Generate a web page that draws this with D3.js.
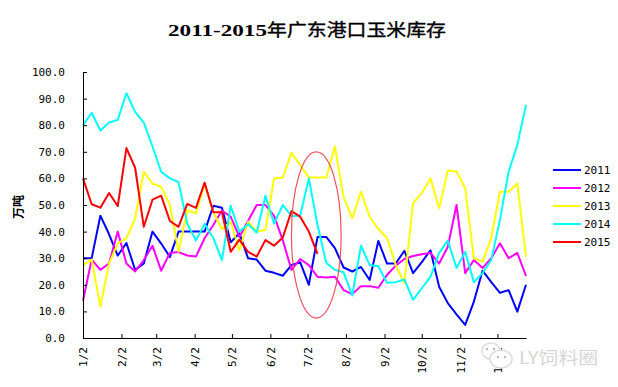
<!DOCTYPE html>
<meta charset="utf-8">
<style>
  body { margin: 0; background: #fff; }
  text { fill: #000; }
  .axis text { font: 11px "DejaVu Sans Mono", "Liberation Mono", monospace; fill: #000; }
  .axis path, .axis line { stroke: #000; stroke-width: 1; }
</style>

<body>
  <script src="https://d3js.org/d3.v7.min.js"></script>
  <script>
    var titleYears = "2011-2015";
    var titleText = "年广东港口玉米库存";
    var yLabel = "万吨";
    var years = ["2011", "2012", "2013", "2014", "2015"];
    var colors = ["#0000ff", "#ff00ff", "#ffff00", "#00ffff", "#ff0000"];
    var yTicks = [0, 10, 20, 30, 40, 50, 60, 70, 80, 90, 100];
    var monthTicks = ["01-02", "02-02", "03-02", "04-02", "05-02", "06-02", "07-02", "08-02", "09-02", "10-02", "11-02", "12-02"];

    var v2011 = [30, 30, 46, 39, 31, 35.7, 25.6, 28, 40, 35.5, 30.5, 40, 40, 40, 40, 49.7, 49, 36, 39.4, 30, 29.5, 25.3, 24.5, 23.4, 27.4, 28.5, 20, 38, 38, 33.8, 26.5, 25, 26.7, 21.8, 36.5, 28, 28, 32.8, 24.4, 28.5, 33, 19.3, 13.1, 8.9, 4.9, 13.7, 25.3, 21, 17, 18, 9.9, 20];
    var v2012 = [14, 29.5, 25.6, 28, 40, 28, 25, 29.3, 34.7, 25.3, 32, 32.3, 31, 30.6, 37.5, 42.5, 47.9, 45.6, 38, 44, 50, 50, 45.9, 36.8, 25.6, 29.7, 27.4, 23, 22.7, 23, 18, 16.5, 19.5, 19.5, 18.9, 23.7, 27.2, 29.7, 30.8, 31.5, 32, 28, 34.3, 50, 24.4, 29.3, 26.3, 30, 35.6, 30, 32, 23.3];
    var v2013 = [27.4, 29.5, 11.8, 28, 35.6, 37.5, 45, 62.5, 58, 56.9, 50, 32.4, 48, 46.9, 58, 47.3, 41, 43.7, 33, 43.7, 40, 40.6, 60, 60.3, 69.7, 65, 60.3, 60.3, 60.3, 72, 53, 45, 55, 45.6, 41, 37.6, 27.5, 20.6, 50.7, 54.5, 60, 48.8, 63, 62.6, 56.3, 30, 28.7, 37.6, 55, 55, 58, 30.6];
    var v2014 = [80, 84.7, 78, 81, 82, 92, 85, 81, 72, 62.5, 60, 58.6, 43, 36.6, 42.9, 37.6, 29.3, 49.7, 40, 42.8, 39.6, 53.5, 43, 50, 45.9, 46, 60, 42.5, 28.3, 25.6, 24.7, 16, 34.7, 27.4, 27, 20.8, 21, 22, 14.3, 18.7, 23, 32, 36.6, 26.3, 32.4, 21, 24.4, 29.3, 44.4, 62.5, 72.6, 87.6];
    var v2015 = [60, 50.3, 49, 54.5, 49.6, 71.4, 64, 41.8, 52, 53.5, 44, 41.8, 50.4, 48.9, 58.4, 47.3, 47.3, 32.4, 37, 32.4, 30.6, 36.8, 34.7, 37.8, 47.7, 45.6, 40, 31.6];
    var seriesValues = [v2011, v2012, v2013, v2014, v2015];

    // the hand drawn ring around July, in chart units
    var ringDates = ["06-19", "07-09", "07-29"];
    var ringValues = [7.5, 70];

    var parseDay = d3.utcParse("%Y-%m-%d");
    function day(md) { return parseDay("2013-" + md); }
    function weekDate(i) { return d3.utcDay.offset(day("01-02"), i * 7); }

    var margin = { top: 72, right: 92, bottom: 49, left: 83 },
      width = 618 - margin.left - margin.right,
      height = 387 - margin.top - margin.bottom;

    var x = d3.scaleUtc()
      .domain([day("01-02"), weekDate(51)])
      .range([0, width]);

    var y = d3.scaleLinear()
      .domain([0, 100])
      .range([height, 0]);

    var svg = d3.select("body").append("svg")
      .attr("width", 618)
      .attr("height", 387)
      .style("display", "block");

    svg.append("text")
      .attr("x", 168)
      .attr("y", 36)
      .attr("textLength", 99)
      .attr("lengthAdjust", "spacingAndGlyphs")
      .style("font", "bold 17px 'Liberation Serif', serif")
      .text(titleYears);

    svg.append("text")
      .attr("x", 267)
      .attr("y", 36)
      .attr("textLength", 179)
      .attr("lengthAdjust", "spacingAndGlyphs")
      .style("font", "17px 'Noto Sans CJK SC', sans-serif")
      .style("stroke", "#000")
      .style("stroke-width", 0.35)
      .text(titleText);

    svg.append("text")
      .attr("transform", "translate(23,207) rotate(-90)")
      .attr("text-anchor", "middle")
      .style("font", "bold 12px 'Noto Sans CJK SC', sans-serif")
      .text(yLabel);

    var g = svg.append("g")
      .attr("transform", "translate(" + margin.left + "," + margin.top + ")");

    var line = d3.line()
      .x(function (d, i) { return x(weekDate(i)); })
      .y(function (d) { return y(d); });

    g.selectAll(".series")
      .data(seriesValues)
      .enter().append("path")
      .attr("class", "series")
      .attr("fill", "none")
      .attr("stroke", function (d, i) { return colors[i]; })
      .attr("stroke-width", 2)
      .attr("stroke-linejoin", "round")
      .attr("d", line);

    var yAxis = d3.axisLeft(y)
      .tickValues(yTicks)
      .tickSizeInner(-4)
      .tickSizeOuter(0)
      .tickPadding(18)
      .tickFormat(d3.format(".1f"));

    var xAxis = d3.axisBottom(x)
      .tickValues(monthTicks.map(day))
      .tickSizeInner(-4)
      .tickSizeOuter(0)
      .tickFormat(d3.utcFormat("%-m/%-d"));

    g.append("g").attr("class", "axis").call(yAxis);

    var xg = g.append("g")
      .attr("class", "axis")
      .attr("transform", "translate(0," + height + ")")
      .call(xAxis);

    xg.selectAll("text")
      .attr("transform", "rotate(-90)")
      .attr("text-anchor", "end")
      .attr("x", -9)
      .attr("y", 0)
      .attr("dy", "0.35em");

    // ring
    g.append("ellipse")
      .attr("cx", x(day(ringDates[1])))
      .attr("cy", (y(ringValues[0]) + y(ringValues[1])) / 2)
      .attr("rx", (x(day(ringDates[2])) - x(day(ringDates[0]))) / 2)
      .attr("ry", (y(ringValues[0]) - y(ringValues[1])) / 2)
      .attr("fill", "none")
      .attr("stroke", "#f0505c")
      .attr("stroke-width", 1.2);

    // legend
    var legend = svg.selectAll(".legend")
      .data(years)
      .enter().append("g")
      .attr("class", "legend")
      .attr("transform", function (d, i) { return "translate(553," + (170 + i * 18) + ")"; });

    legend.append("line")
      .attr("x2", 28)
      .attr("stroke", function (d, i) { return colors[i]; })
      .attr("stroke-width", 2);

    legend.append("text")
      .attr("x", 31)
      .attr("dy", "0.35em")
      .style("font", "11px 'DejaVu Sans Mono', monospace")
      .text(function (d) { return d; });

    // watermark sits over the 12/2 label
    var mark = svg.append("g").attr("fill", "#fff").attr("stroke", "#dcdcdc").attr("stroke-width", 1.5);
    mark.append("ellipse").attr("cx", 491).attr("cy", 351).attr("rx", 9).attr("ry", 8);
    mark.append("ellipse").attr("cx", 501).attr("cy", 359).attr("rx", 11).attr("ry", 9);
    mark.selectAll("circle")
      .data([[487, 349], [494, 349], [498, 357], [505, 357]])
      .enter().append("circle")
      .attr("cx", function (d) { return d[0]; })
      .attr("cy", function (d) { return d[1]; })
      .attr("r", 1.2)
      .attr("stroke", "none")
      .attr("fill", "#bbb");

    svg.append("text")
      .attr("x", 519)
      .attr("y", 364)
      .attr("textLength", 79)
      .attr("lengthAdjust", "spacingAndGlyphs")
      .style("font", "17px 'Noto Sans CJK SC', sans-serif")
      .style("fill", "#d6d6d6")
      .text("LY饲料圈");
  </script>
</body>
